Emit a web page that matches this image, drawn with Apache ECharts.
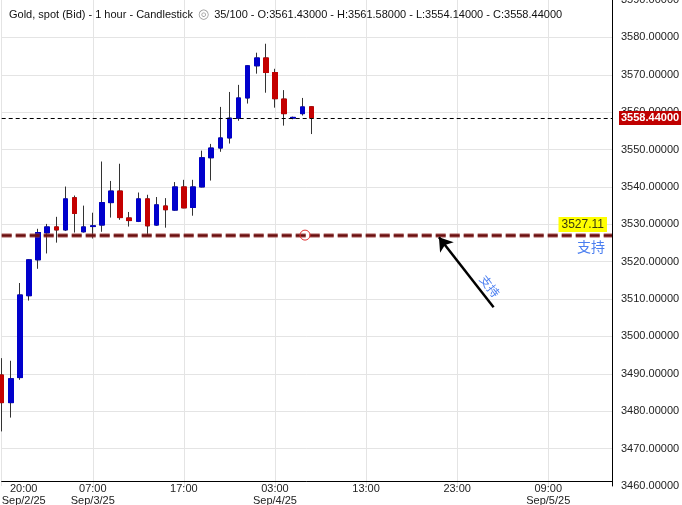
<!DOCTYPE html>
<html><head><meta charset="utf-8">
<script src="https://cdn.jsdelivr.net/npm/echarts@6/dist/echarts.min.js"></script>
<style>html,body{margin:0;padding:0;background:#fff}#c{width:682px;height:505px}</style>
</head><body><div id="c"></div>
<script>
// ---- data (hourly candles, Gold spot bid) ----
const openP  = [3489.7,3482.3,3489.0,3510.9,3520.5,3527.7,3529.3,3528.5,3537.1,3528.0,
                3529.4,3529.8,3535.8,3538.9,3531.7,3530.8,3536.8,3529.8,3534.9,3533.8,
                3540.0,3534.5,3540.0,3547.8,3550.4,3553.1,3558.4,3563.8,3572.4,3574.5,
                3570.6,3563.5,3558.4,3559.6,3561.43];
const closeP = [3482.3,3488.7,3511.1,3520.5,3527.8,3529.3,3528.5,3536.8,3532.9,3529.3,
                3529.6,3535.8,3538.9,3531.8,3531.0,3536.8,3529.6,3535.2,3533.9,3540.0,
                3534.4,3540.0,3547.8,3550.4,3553.1,3558.4,3563.8,3572.4,3574.5,3570.6,
                3563.6,3559.6,3558.6,3561.4,3558.44];
const lowP   = [3474.6,3478.3,3488.4,3509.6,3518.1,3522.2,3525.1,3528.2,3527.8,3527.8,
                3526.2,3528.0,3531.8,3531.2,3529.4,3530.6,3526.9,3529.6,3529.1,3533.6,
                3534.3,3532.3,3539.9,3541.7,3549.4,3551.6,3557.7,3562.3,3570.3,3565.2,
                3561.2,3556.4,3558.1,3559.1,3554.14];
const highP  = [3494.2,3493.5,3514.3,3520.7,3528.8,3530.1,3532.0,3540.1,3537.7,3535.0,
                3533.1,3546.8,3541.6,3546.2,3533.3,3538.5,3537.9,3537.3,3537.0,3541.3,
                3541.9,3541.9,3549.7,3551.5,3561.4,3565.4,3567.3,3572.6,3575.9,3578.3,
                3571.6,3565.9,3558.8,3563.8,3561.58];

const tickIdx  = [0, 10, 20, 30, 40, 50, 60];
const tickTime = ['20:00','07:00','17:00','03:00','13:00','23:00','09:00'];
const tickDate = ['Sep/2/25','Sep/3/25','','Sep/4/25','','','Sep/5/25'];

const currentPrice = 3558.44;
const supportPrice = 3527.11;
const supportText  = '支持';
const arrowTip  = [48, 3526.55];
const arrowTail = [54, 3507.8];
const anchorAt  = [33.3, 3527.11];

// hourly category slots (68 slots across the visible range)
const categories = [];
for (let i = 0; i < 68; i++) {
  let day, h;
  if (i < 4) { day = 2; h = 20 + i; }
  else if (i < 10) { day = 3; h = i - 3; }
  else { const t = 7 + (i - 10); day = 3 + Math.floor(t / 24); h = t % 24; }
  categories.push('Sep/' + day + ' ' + String(h).padStart(2, '0') + ':00');
}

const FONT = '"Liberation Sans", Arial, sans-serif';
const CJK = '"Noto Sans CJK SC", sans-serif';
const UP = '#0000cc', DOWN = '#c40000', WICK = '#333333';

const ohlc = openP.map((o, i) => [o, closeP[i], lowP[i], highP[i]]);
const bodies = openP.map((o, i) => [o, closeP[i], Math.min(o, closeP[i]), Math.max(o, closeP[i])]);
const n = openP.length;
const fmt = v => v.toFixed(5);
const titleText = 'Gold, spot (Bid) - 1 hour - Candlestick {eye|◎} ' + n + '/100 - O:' + fmt(openP[n-1]) +
  ' - H:' + fmt(highP[n-1]) + ' - L:' + fmt(lowP[n-1]) + ' - C:' + fmt(closeP[n-1]);

const chart = echarts.init(document.getElementById('c'), null, {renderer: 'canvas'});
const arrowLabel = {show: true, position: 'insideEndTop', formatter: supportText, color: '#4a7ef0',
  fontSize: 12, fontFamily: CJK, distance: [7, 4]};
const arrowLine = {color: '#000', width: 2.5, type: 'solid'};

chart.setOption({
  animation: false,
  backgroundColor: '#fff',
  textStyle: {fontFamily: FONT},
  title: {
    text: titleText, left: 4, top: 3,
    textStyle: {fontSize: 11, fontWeight: 'normal', color: '#111', fontFamily: FONT,
      rich: {eye: {color: '#999', fontSize: 13, padding: [0, 2]}}}
  },
  grid: {left: 1.7, right: 70, top: 0, bottom: 19, outerBoundsMode: 'none', containLabel: false},
  xAxis: {
    type: 'category', data: categories, boundaryGap: false, offset: -5,
    axisLine: {show: true, lineStyle: {color: '#000', width: 1}},
    axisTick: {show: false},
    axisLabel: {
      interval: i => tickIdx.includes(i),
      formatter: (v, i) => {
        const k = tickIdx.indexOf(i);
        if (k < 0) return '';
        if (k === 0) return '{f|' + tickTime[k] + '}\n{f|' + tickDate[k] + '}';
        return tickDate[k] ? tickTime[k] + '\n' + tickDate[k] : tickTime[k];
      },
      alignMinLabel: 'left',
      margin: 2, fontSize: 11, lineHeight: 12, color: '#222', fontFamily: FONT,
      rich: {f: {width: 44, align: 'center', fontSize: 11, lineHeight: 12, color: '#222', fontFamily: FONT}}
    },
    splitLine: {show: true, interval: i => tickIdx.includes(i), lineStyle: {color: '#e4e4e4', width: 1}}
  },
  yAxis: {
    type: 'value', position: 'right', min: 3460, max: 3590, interval: 10,
    axisLine: {show: true, lineStyle: {color: '#000', width: 1}},
    axisTick: {show: false},
    axisLabel: {formatter: v => v.toFixed(5), margin: 9, fontSize: 11, color: '#222', fontFamily: FONT},
    splitLine: {show: true, showMinLine: false, showMaxLine: false, lineStyle: {color: '#e4e4e4', width: 1}}
  },
  series: [
    {
      type: 'candlestick', data: ohlc, barWidth: 5, clip: false, z: 2, silent: true,
      itemStyle: {color: WICK, color0: WICK, borderColor: WICK, borderColor0: WICK, borderWidth: 1}
    },
    {
      type: 'candlestick', data: bodies, barWidth: 5, clip: false, z: 3, silent: true,
      itemStyle: {color: UP, color0: DOWN, borderColor: UP, borderColor0: DOWN, borderWidth: 1},
      markLine: {
        silent: true, animation: false, symbol: 'none', precision: 5,
        data: [
          {yAxis: currentPrice, lineStyle: {color: '#000', type: [4, 3], width: 1},
           label: {show: true, position: 'end', formatter: fmt(currentPrice), color: '#fff', fontWeight: 'bold',
                   backgroundColor: '#c00000', padding: [2, 2, 1, 2], distance: 7, fontSize: 11, fontFamily: FONT}},
          {yAxis: supportPrice, lineStyle: {color: 'rgba(160,60,60,0.45)', type: [10, 4], width: 5},
           label: {show: true, position: 'insideEndTop', formatter: supportPrice.toFixed(2), color: '#3a3a10',
                   backgroundColor: '#ffff00', padding: [2, 3, 1, 3], distance: [5, 3], fontSize: 12, fontFamily: FONT}},
          {yAxis: supportPrice, lineStyle: {color: '#6a0e0e', type: [10, 4], width: 2.5},
           label: {show: true, position: 'insideEndBottom', formatter: supportText, color: '#4a7ef0',
                   distance: [7, 5], fontSize: 14, fontFamily: CJK}},
          [
            {coord: arrowTip, symbol: 'arrow', symbolSize: 13, lineStyle: arrowLine, label: arrowLabel},
            {coord: arrowTail, symbol: 'none', lineStyle: arrowLine, label: arrowLabel}
          ]
        ]
      }
    }
  ]
});

function toPx(idx, val) {
  const i0 = Math.floor(idx), f = idx - i0;
  const p0 = chart.convertToPixel({gridIndex: 0}, [i0, val]);
  const p1 = chart.convertToPixel({gridIndex: 0}, [i0 + 1, val]);
  return [p0[0] + f * (p1[0] - p0[0]), p0[1]];
}
const c = toPx(anchorAt[0], anchorAt[1]);
chart.setOption({
  graphic: [{type: 'circle', shape: {cx: c[0], cy: c[1], r: 5}, z: 100,
             style: {fill: 'none', stroke: '#e03030', lineWidth: 1}}]
});
</script></body></html>
